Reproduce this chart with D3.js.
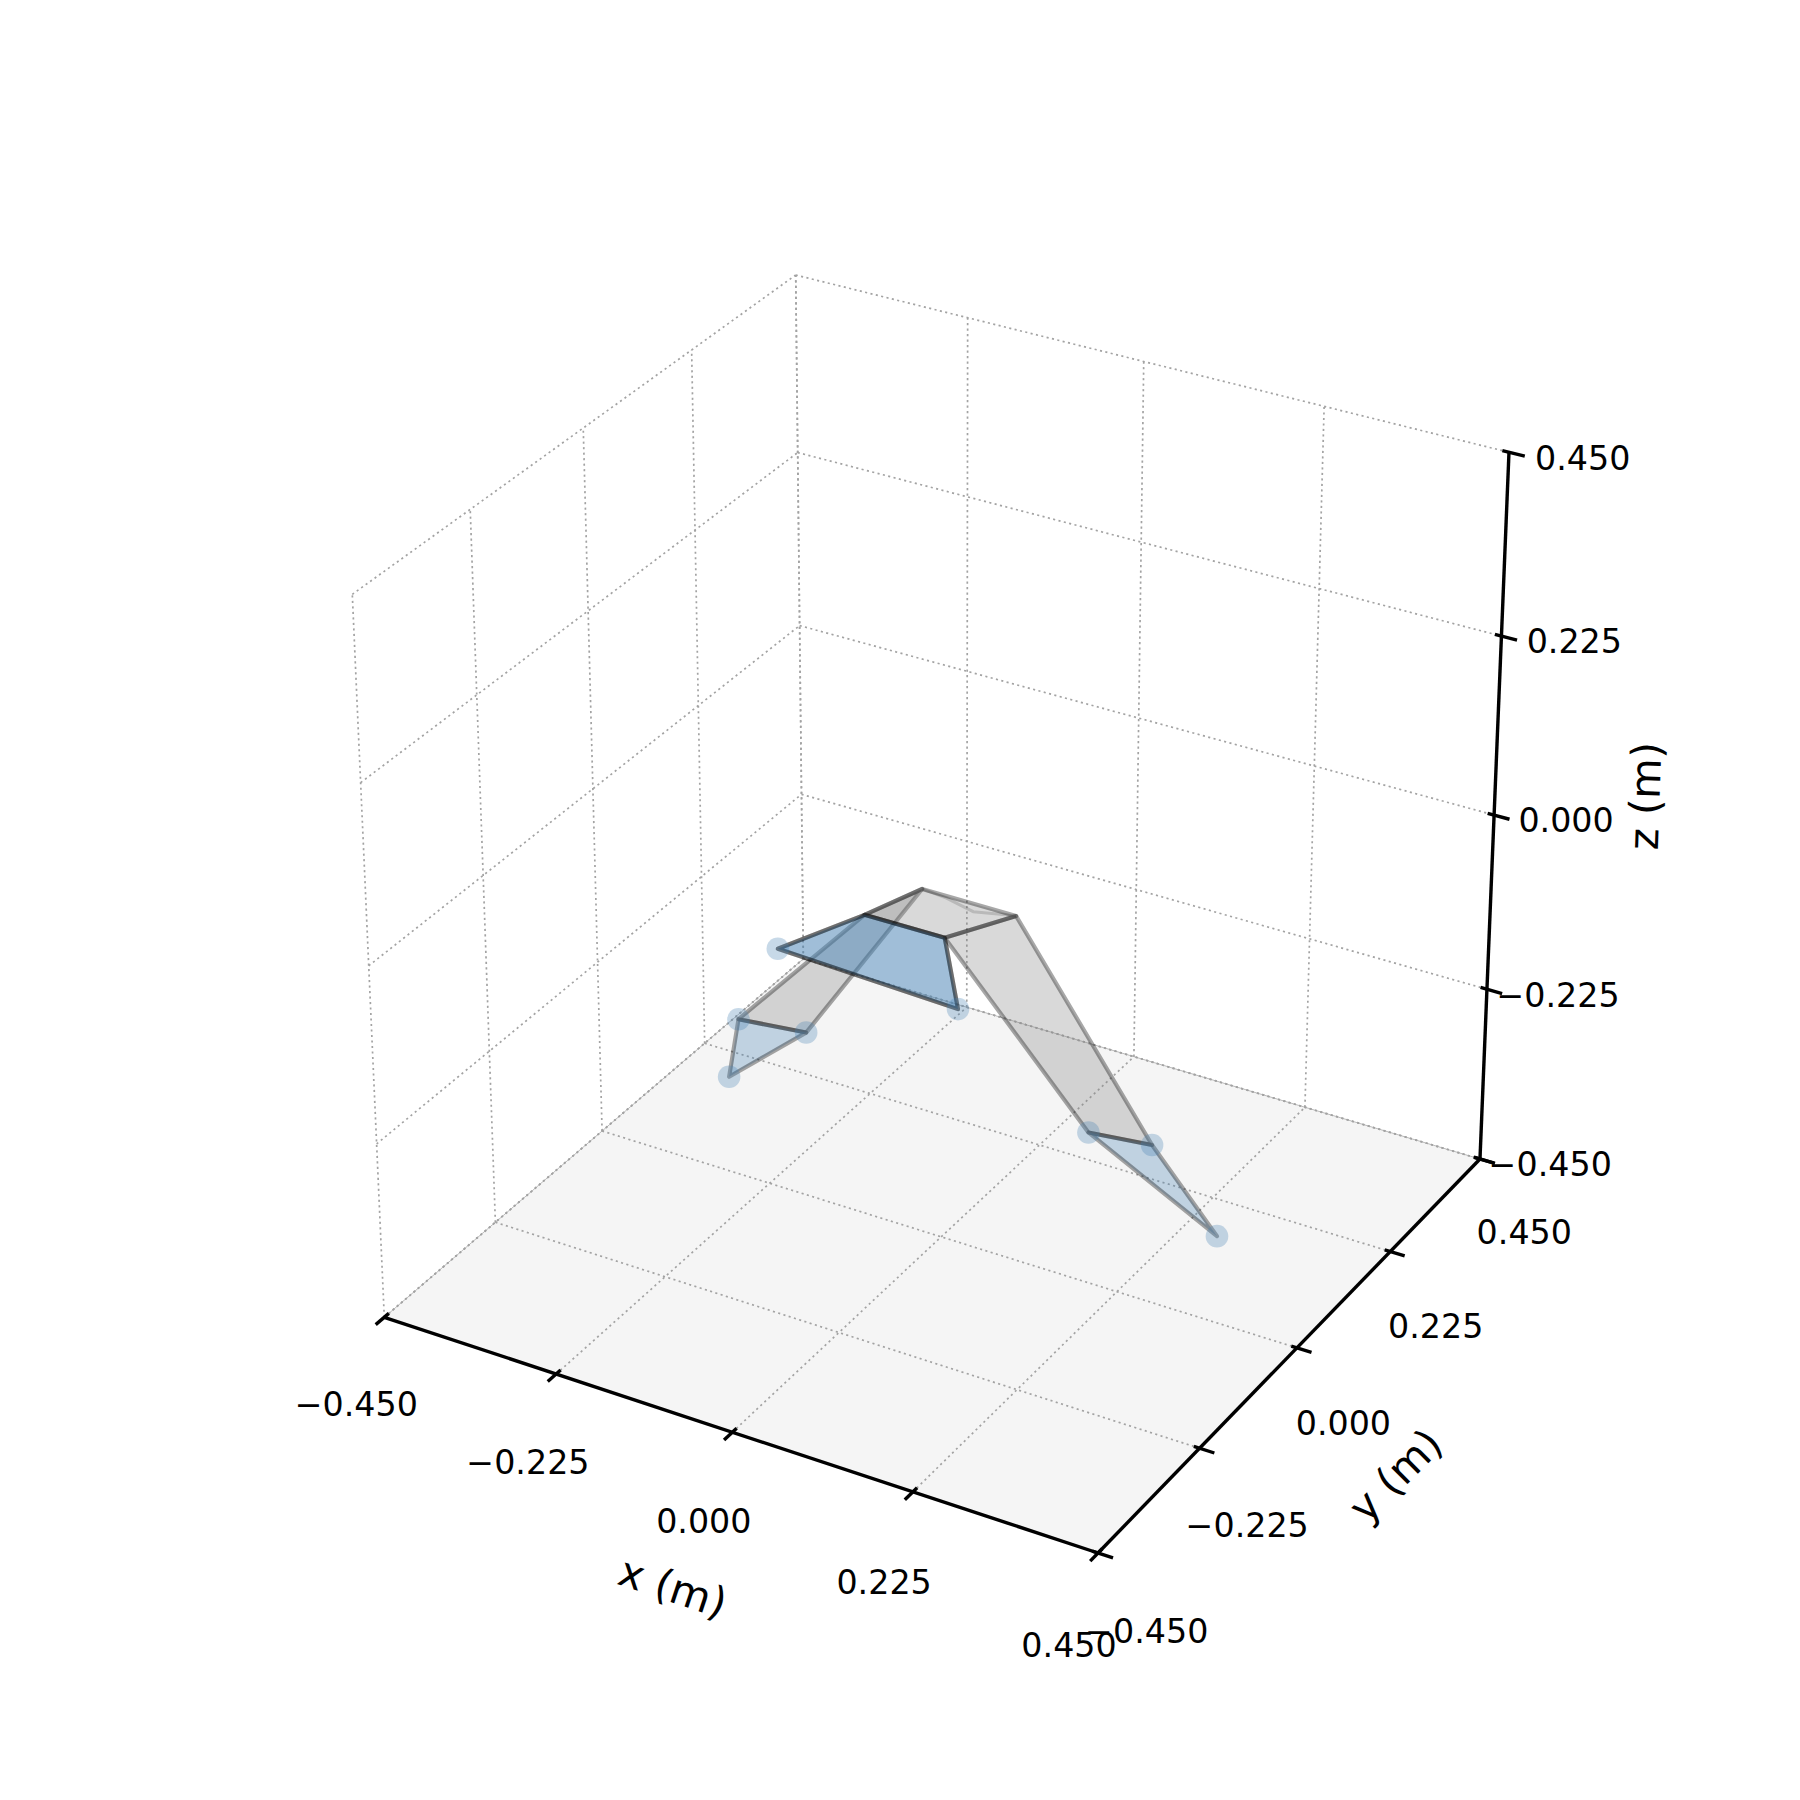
<!DOCTYPE html><html><head><meta charset="utf-8"><style>body{margin:0;background:#fff}text{font-family:"DejaVu Sans";fill:#000}</style></head><body><svg id="c" width="1800" height="1800"></svg>
<script src="https://cdn.jsdelivr.net/npm/d3@7"></script>
<script>
const limits=[-0.45,0.45];
const tickValues=[-0.45,-0.225,0,0.225,0.45];
const axisTitles=["x (m)","y (m)","z (m)"];
const plate=[[-0.018,-0.010,0],[0.100,-0.010,0],[0.056,-0.089,0],[-0.044,-0.090,0]];
const frontFace=[[-0.177,-0.054,-0.1],[-0.044,-0.090,0],[0.056,-0.089,0],[0.060,-0.067,-0.1]];
const leftBand=[[-0.018,-0.010,0],[-0.044,-0.090,0],[-0.224,-0.063,-0.2],[-0.144,-0.050,-0.2]];
const rightBand=[[0.100,-0.010,0],[0.056,-0.089,0],[0.229,-0.077,-0.2],[0.301,-0.065,-0.2]];
const leftFoot=[[-0.224,-0.063,-0.2],[-0.144,-0.050,-0.2],[-0.169,-0.173,-0.2]];
const rightFoot=[[0.229,-0.077,-0.2],[0.301,-0.065,-0.2],[0.448,-0.191,-0.2]];
const plateCrease=[[-0.018,-0.010,0],[0.015,-0.014,0],[0.055,-0.025,0],[0.083,-0.015,0],[0.100,-0.010,0]];
const supportPoints=[[-0.177,-0.054,-0.1],[0.060,-0.067,-0.1],[-0.224,-0.063,-0.2],[-0.144,-0.050,-0.2],[-0.169,-0.173,-0.2],[0.229,-0.077,-0.2],[0.301,-0.065,-0.2],[0.448,-0.191,-0.2]];

const unit=d3.scaleLinear().domain(limits).range([-1,1]);
const cam=[[333.5730,244.9704,-25.6921,940.9932],[81.0227,-141.2145,-381.1862,889.1213],[-0.024479,0.041503,-0.027058,1]];
function proj(p){const q=[unit(p[0]),unit(p[1]),unit(p[2]),1];const r=cam.map(c=>d3.sum(c,(v,i)=>v*q[i]));return[r[0]/r[2],r[1]/r[2]];}
const line=d3.line().x(d=>proj(d)[0]).y(d=>proj(d)[1]);
const closed=d3.line().x(d=>proj(d)[0]).y(d=>proj(d)[1]).curve(d3.curveLinearClosed);
const svg=d3.select("#c");
const lo=limits[0],hi=limits[1];

svg.append("path").attr("d",closed([[lo,lo,lo],[hi,lo,lo],[hi,hi,lo],[lo,hi,lo]])).attr("fill","#f5f5f5");
const gridLines=[];
tickValues.forEach(t=>{
  gridLines.push([[t,lo,lo],[t,hi,lo]],[[lo,t,lo],[hi,t,lo]]);
  gridLines.push([[lo,t,lo],[lo,t,hi]],[[lo,lo,t],[lo,hi,t]]);
  gridLines.push([[t,hi,lo],[t,hi,hi]],[[lo,hi,t],[hi,hi,t]]);
});
svg.append("path").attr("d",line([[lo,lo,lo],[lo,hi,lo],[hi,hi,lo]])).attr("fill","none").attr("stroke","#bbb").attr("stroke-width",1);
svg.append("g").selectAll("path").data(gridLines).join("path").attr("d",line).attr("fill","none")
 .attr("stroke","#a3a3a3").attr("stroke-width",1.7).attr("stroke-dasharray","2.1 3.4");

const edge="rgba(0,0,0,0.34)";
function face(pts,fill){svg.append("path").attr("d",closed(pts)).attr("fill",fill).attr("stroke",edge).attr("stroke-width",4.2).attr("stroke-linejoin","round");}
const grey="rgba(128,128,128,0.3)",blue="rgba(70,130,180,0.3)";
face(leftBand,grey);face(rightBand,grey);
face(leftFoot,blue);face(rightFoot,blue);
svg.append("path").attr("d",line(plateCrease)).attr("fill","none").attr("stroke","rgba(0,0,0,0.18)").attr("stroke-width",3);
face(plate,grey);
face(frontFace,blue);face(frontFace,blue);
svg.append("g").selectAll("circle").data(supportPoints).join("circle").attr("cx",d=>proj(d)[0]).attr("cy",d=>proj(d)[1]).attr("r",11.3).attr("fill",blue);

const axes=[
 {a:[[lo,lo,lo],[hi,lo,lo]],tick:t=>[[t,lo-0.017,lo],[t,lo+0.009,lo]],lab:t=>[t,lo,lo],off:[-28.5,89],drift:[-1,5.5]},
 {a:[[hi,lo,lo],[hi,hi,lo]],tick:t=>[[hi-0.007,t,lo],[hi+0.018,t,lo]],lab:t=>[hi,t,lo],off:[46.5,75.6],drift:[-4.4,-5.8]},
 {a:[[hi,hi,lo],[hi,hi,hi]],tick:t=>[[hi-0.008,hi,t],[hi+0.019,hi,t]],lab:t=>[hi,hi,t],off:[72,5.3],drift:[3.5,0]}
];
const fmt=d3.format(".3f");
axes.forEach(ax=>{
 svg.append("path").attr("d",line(ax.a)).attr("stroke","#000").attr("stroke-width",3.4).attr("fill","none");
 svg.append("g").selectAll("path").data(tickValues).join("path").attr("d",t=>line(ax.tick(t))).attr("stroke","#000").attr("stroke-width",3.4);
 const sh=d3.scaleLinear().domain(limits).range([-0.5,0.5]);
 svg.append("g").selectAll("text").data(tickValues).join("text").text(fmt)
  .attr("x",t=>proj(ax.lab(t))[0]+ax.off[0]+sh(t)*ax.drift[0]).attr("y",t=>proj(ax.lab(t))[1]+ax.off[1]+sh(t)*ax.drift[1]).attr("dy","0.36em")
  .attr("text-anchor","middle").attr("font-size",33.3);
});
const titles=[{c:[0,lo,lo],off:[-60,157],r:18.4},{c:[hi,0,lo],off:[100,129],r:-45},{c:[hi,hi,0],off:[153,-19],r:-88}];
svg.append("g").selectAll("text").data(titles).join("text").text((d,i)=>axisTitles[i])
 .attr("transform",d=>{const p=proj(d.c);return `translate(${p[0]+d.off[0]},${p[1]+d.off[1]}) rotate(${d.r})`;})
 .attr("dy","0.3em").attr("text-anchor","middle").attr("font-size",41.7);
</script></body></html>
